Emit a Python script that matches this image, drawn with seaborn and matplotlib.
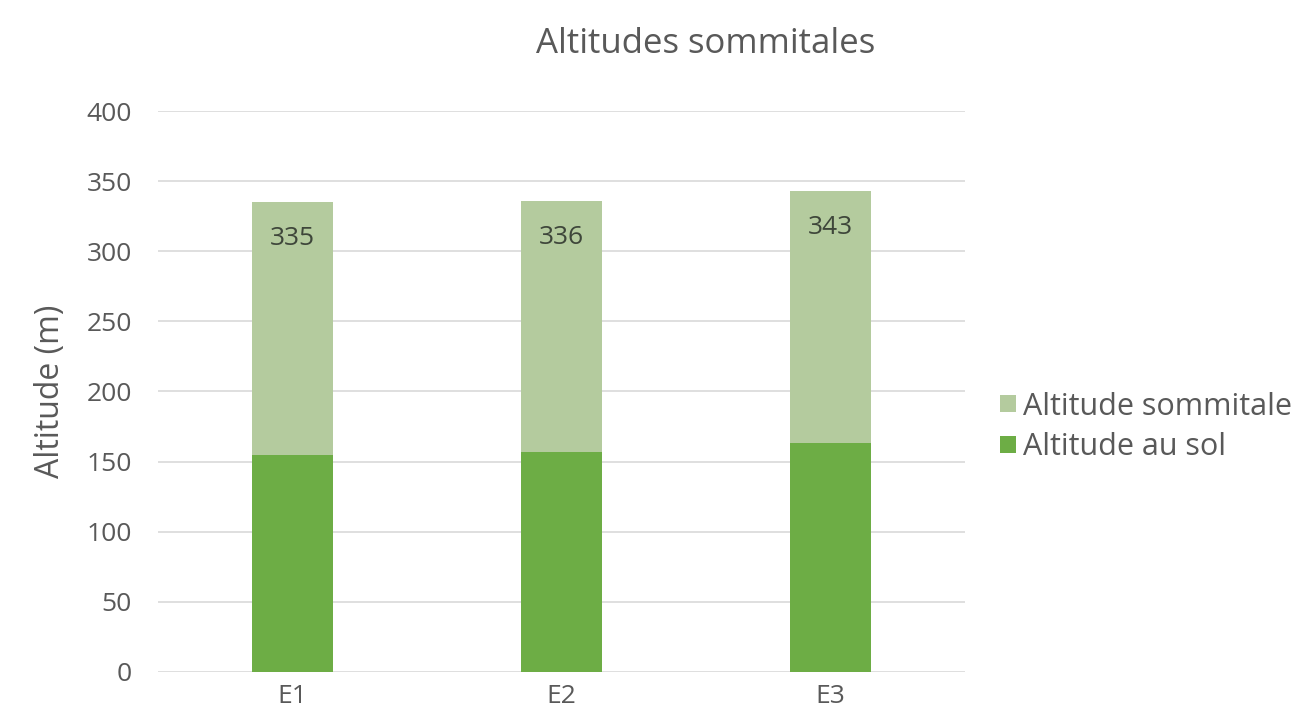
import matplotlib
matplotlib.use("Agg")
import matplotlib.pyplot as plt
import seaborn as sns
import pandas as pd

categories = ["E1", "E2", "E3"]
altitude_sol = [155, 157, 163]
altitude_sommitale = [335, 336, 343]
yticks = [0, 50, 100, 150, 200, 250, 300, 350, 400]

sns.set_theme(style="white")
plt.rcParams['font.family'] = ['Open Sans', 'DejaVu Sans']

light = "#B4CB9E"
dark = "#6DAD45"
txt = "#595959"

df = pd.DataFrame({"cat": categories, "sol": altitude_sol, "som": altitude_sommitale})

fig = plt.figure(figsize=(13.06, 7.26), dpi=100)
ax = fig.add_axes([0.121, 0.0744, 0.618, 0.7727])

sns.barplot(data=df, x="cat", y="som", color=light, width=0.3, ax=ax,
            saturation=1, label="Altitude sommitale", zorder=2, linewidth=0)
sns.barplot(data=df, x="cat", y="sol", color=dark, width=0.3, ax=ax,
            saturation=1, label="Altitude au sol", zorder=3, linewidth=0)

for i, v in enumerate(altitude_sommitale):
    ax.text(i, v - 26, str(v), ha="center", va="center", fontsize=19, color="#3E463A", zorder=4)

ax.set_xlim(-0.5, 2.5)
ax.set_ylim(0, 400)
ax.set_yticks(yticks)
ax.yaxis.grid(True, color="#D9D9D9", linewidth=1.2, zorder=0)
ax.set_axisbelow(True)
for s in ax.spines.values():
    s.set_visible(False)
ax.tick_params(axis="y", length=0, labelsize=19, colors=txt, pad=19)
ax.tick_params(axis="x", length=0, labelsize=19, colors=txt, pad=9)
ax.set_xlabel("")
ax.set_ylabel("Altitude (m)", fontsize=23, color=txt, labelpad=14)
fig.text(0.54, 0.94, "Altitudes sommitales", fontsize=25, color=txt, ha="center", va="center")

handles, labels = ax.get_legend_handles_labels()
if ax.get_legend() is not None:
    ax.get_legend().remove()
leg = fig.legend(handles, labels, loc="center left", bbox_to_anchor=(0.745, 0.412),
                 frameon=False, fontsize=22, handlelength=0.5, handleheight=0.5,
                 handletextpad=0.25, labelspacing=0.35, labelcolor=txt)

fig.savefig("out.png", dpi=100, facecolor="white")
